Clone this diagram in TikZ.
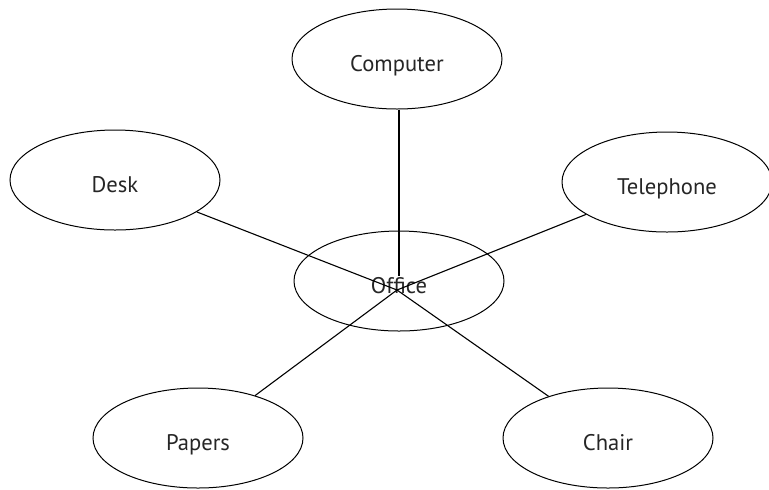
\documentclass[tikz,border=0pt]{standalone}
\usepackage{fontspec}
\setmainfont{PT Sans}
\usepackage{tikz}
\usetikzlibrary{shapes.geometric}

\begin{document}
\begin{tikzpicture}[
  x=0.5pt, y=-0.5pt,
  topic/.style={draw, ellipse, line width=0.5pt, minimum width=105pt, minimum height=50pt, inner sep=0pt, align=center, text height=12.5pt, text depth=0pt, text=black!85, font=\fontsize{11.3}{13}\selectfont},
  link/.style={line width=0.55pt},
  stem/.style={line width=0.9pt}
]
\useasboundingbox (0,0) rectangle (769,489);
\node[topic] (office) at (399,281) {Office};
\node[topic] (computer) at (397,59) {Computer};
\node[topic] (desk) at (115,180) {Desk};
\node[topic] (phone) at (667,182) {Telephone};
\node[topic] (papers) at (198,438) {Papers};
\node[topic] (chair) at (608,438) {Chair};

\coordinate (hub) at (397,290);
\coordinate (cend) at (399,276);

\draw[stem] (computer.south -| cend) -- (cend);
\draw[link] (desk) -- (hub);
\draw[link] (phone) -- (hub);
\draw[link] (papers) -- (hub);
\draw[link] (chair) -- (hub);
\end{tikzpicture}
\end{document}
